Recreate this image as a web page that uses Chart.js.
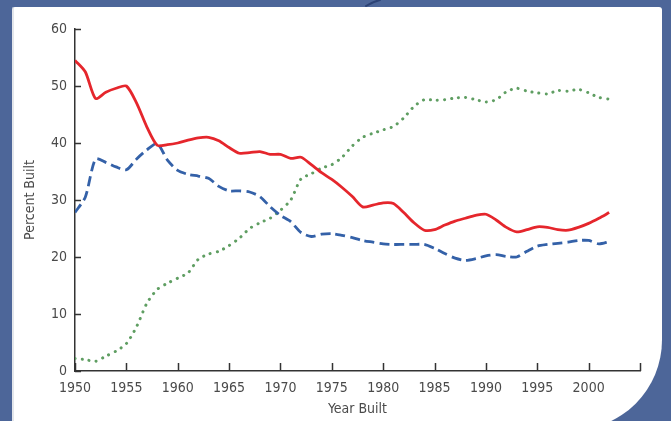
<!DOCTYPE html>
<html>
<head>
<meta charset="utf-8">
<script src="https://cdn.jsdelivr.net/npm/chart.js@4/dist/chart.umd.min.js"></script>
<style>
  html, body { margin: 0; padding: 0; background: #4d6699; }
  #wrap { width: 671px; height: 421px; position: relative; }
</style>
</head>
<body>
<div id="wrap"><canvas id="chart" width="671" height="421"></canvas></div>
<script>
// Year built (one point per year)
const years = [
  1950, 1951, 1952, 1953, 1954, 1955, 1956, 1957, 1958, 1959,
  1960, 1961, 1962, 1963, 1964, 1965, 1966, 1967, 1968, 1969,
  1970, 1971, 1972, 1973, 1974, 1975, 1976, 1977, 1978, 1979,
  1980, 1981, 1982, 1983, 1984, 1985, 1986, 1987, 1988, 1989,
  1990, 1991, 1992, 1993, 1994, 1995, 1996, 1997, 1998, 1999,
  2000, 2001, 2002
];

// Percent built – solid red series
const redSeries = [
  54.5, 52.5, 47.8, 48.9, 49.6, 50.0, 47.0, 42.8, 39.6, 39.7,
  40.0, 40.5, 40.9, 41.0, 40.4, 39.2, 38.2, 38.3, 38.5, 38.0,
  38.0, 37.3, 37.5, 36.2, 34.8, 33.6, 32.2, 30.6, 28.8, 29.1,
  29.5, 29.4, 27.8, 26.0, 24.7, 24.8, 25.6, 26.3, 26.8, 27.3,
  27.5, 26.5, 25.2, 24.4, 24.8, 25.3, 25.2, 24.8, 24.7, 25.2,
  25.9, 26.8, 27.8
];

// Percent built – dashed blue series
const blueSeries = [
  27.8, 30.5, 37.2, 36.6, 35.8, 35.3, 37.2, 38.8, 39.9, 37.0,
  35.2, 34.5, 34.2, 33.8, 32.4, 31.6, 31.6, 31.4, 30.6, 28.8,
  27.3, 26.2, 24.3, 23.6, 24.0, 24.1, 23.8, 23.4, 22.9, 22.6,
  22.3, 22.2, 22.2, 22.2, 22.2, 21.5, 20.6, 19.8, 19.4, 19.7,
  20.2, 20.4, 20.1, 20.0, 21.0, 21.9, 22.2, 22.4, 22.6, 22.9,
  22.9, 22.3, 22.7
];

// Percent built – dotted green series
const greenSeries = [
  2.2, 2.0, 1.7, 2.6, 3.5, 4.8, 7.8, 11.9, 14.3, 15.4,
  16.3, 17.2, 19.6, 20.5, 21.0, 22.0, 23.3, 25.0, 26.0, 26.8,
  28.2, 30.0, 33.7, 34.6, 35.6, 36.2, 37.5, 39.5, 41.0, 41.7,
  42.3, 42.9, 44.4, 46.4, 47.6, 47.5, 47.6, 47.9, 48.0, 47.6,
  47.2, 47.6, 49.0, 49.6, 49.1, 48.8, 48.6, 49.2, 49.1, 49.4,
  48.8, 48.0, 47.7
];

// Axis ticks
const xTickValues = [1950, 1955, 1960, 1965, 1970, 1975, 1980, 1985, 1990, 1995, 2000, 2005];
const xTickLabels = ['1950', '1955', '1960', '1965', '1970', '1975', '1980', '1985', '1990', '1995', '2000', ''];
const yTickValues = [0, 10, 20, 30, 40, 50, 60];

const FONT = '"Liberation Sans Narrow", "Arial Narrow", "DejaVu Sans Condensed", "Liberation Sans", sans-serif';
const TEXT = '#4a4a4a';
const AXIS = '#333333';

const toPoints = (vals) => years.map((y, i) => ({ x: y, y: vals[i] }));

// Blue frame with the white rounded panel behind the plot
const panelPlugin = {
  id: 'panel',
  beforeDraw(chart) {
    const ctx = chart.ctx;
    ctx.save();
    ctx.fillStyle = '#4d6699';
    ctx.fillRect(0, 0, chart.width, chart.height);
    ctx.fillStyle = '#ffffff';
    ctx.beginPath();
    ctx.roundRect(12, 7, 650, 423, [3, 3, 90, 3]);
    ctx.fill();
    // faint inner edge on the left
    ctx.fillStyle = 'rgba(200,205,215,0.5)';
    ctx.fillRect(12, 7, 2, chart.height);
    // thin dark stroke in the top band
    ctx.strokeStyle = '#2c4275';
    ctx.lineWidth = 2;
    ctx.lineCap = 'round';
    ctx.beginPath();
    ctx.moveTo(366, 6);
    ctx.quadraticCurveTo(372, 2, 380, 0);
    ctx.stroke();
    ctx.restore();
  }
};

// Tick marks pointing into the plot area
const innerTicksPlugin = {
  id: 'innerTicks',
  afterDraw(chart) {
    const { ctx, scales: { x, y } } = chart;
    ctx.save();
    ctx.strokeStyle = AXIS;
    ctx.lineWidth = 1.5;
    ctx.beginPath();
    xTickValues.forEach(v => {
      const px = Math.round(x.getPixelForValue(v)) + 0.5;
      ctx.moveTo(px, y.bottom);
      ctx.lineTo(px, y.bottom - 8);
    });
    yTickValues.forEach(v => {
      const py = Math.round(y.getPixelForValue(v)) + 0.5;
      ctx.moveTo(x.left, py);
      ctx.lineTo(x.left + 6, py);
    });
    ctx.stroke();
    ctx.restore();
  }
};

new Chart(document.getElementById('chart'), {
  type: 'line',
  data: {
    datasets: [
      {
        data: toPoints(redSeries),
        borderColor: '#e5262c',
        borderWidth: 2.8,
        pointRadius: 0,
        tension: 0.25,
        fill: false
      },
      {
        data: toPoints(blueSeries),
        borderColor: '#3461a8',
        borderWidth: 2.8,
        borderDash: [10, 5],
        pointRadius: 0,
        tension: 0.25,
        fill: false
      },
      {
        data: toPoints(greenSeries),
        borderColor: '#5f9e62',
        borderWidth: 3,
        borderDash: [0.1, 7],
        borderCapStyle: 'round',
        pointRadius: 0,
        tension: 0.25,
        fill: false
      }
    ]
  },
  options: {
    responsive: false,
    devicePixelRatio: 1,
    animation: false,
    layout: { padding: { top: 29, right: 31, left: 0, bottom: 0 } },
    plugins: {
      legend: { display: false },
      tooltip: { enabled: false }
    },
    scales: {
      x: {
        type: 'linear',
        min: 1950,
        max: 2005,
        afterBuildTicks(scale) {
          scale.ticks = xTickValues.map(v => ({ value: v }));
        },
        afterFit(scale) { scale.height = 50; },
        ticks: {
          autoSkip: false,
          maxRotation: 0,
          padding: 9,
          color: TEXT,
          font: { family: FONT, size: 14 },
          callback: (v) => xTickLabels[xTickValues.indexOf(v)]
        },
        grid: { display: false, drawTicks: false },
        border: { display: true, color: AXIS, width: 1.5 },
        title: {
          display: true,
          text: 'Year Built',
          color: TEXT,
          font: { family: FONT, size: 14 },
          padding: { top: 0, bottom: 3 }
        }
      },
      y: {
        min: 0,
        max: 60,
        afterBuildTicks(scale) {
          scale.ticks = yTickValues.map(v => ({ value: v }));
        },
        afterFit(scale) { scale.width = 75; },
        ticks: {
          padding: 8,
          color: TEXT,
          font: { family: FONT, size: 14 }
        },
        grid: { display: false, drawTicks: false },
        border: { display: true, color: AXIS, width: 1.5 },
        title: {
          display: true,
          text: 'Percent Built',
          color: TEXT,
          font: { family: FONT, size: 14 },
          padding: { top: 22, bottom: 0 }
        }
      }
    }
  },
  plugins: [panelPlugin, innerTicksPlugin]
});
</script>
</body>
</html>
